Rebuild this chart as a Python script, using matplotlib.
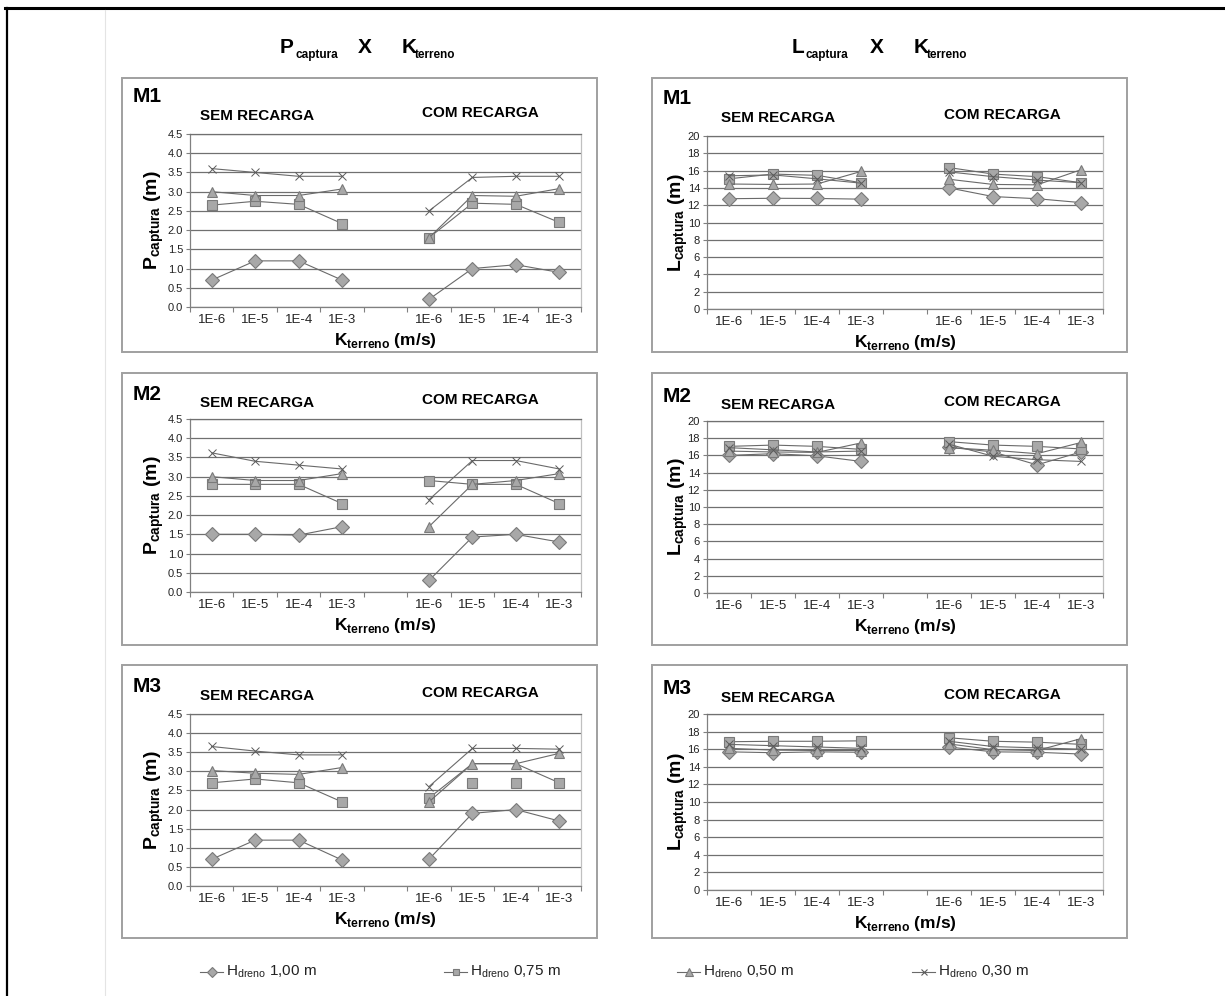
import numpy as np
import matplotlib
matplotlib.use('Agg')
from matplotlib import pyplot as plt
from matplotlib.lines import Line2D
from matplotlib.patches import Rectangle

W, H = 1225, 996

k_labels = ['1E-6', '1E-5', '1E-4', '1E-3']
h_dreno = ['1,00', '0,75', '0,50', '0,30']

# each group lists the series for H_dreno 1,00 / 0,75 / 0,50 / 0,30 m
p_m1_sem = [[0.7, 1.2, 1.2, 0.7], [2.65, 2.75, 2.67, 2.17], [3.0, 2.9, 2.9, 3.07], [3.6, 3.5, 3.4, 3.4]]
p_m1_com = [[0.2, 1.0, 1.1, 0.9], [1.8, 2.7, 2.67, 2.2], [1.8, 2.9, 2.88, 3.08], [2.5, 3.37, 3.4, 3.4]]
p_m2_sem = [[1.5, 1.5, 1.48, 1.7], [2.8, 2.8, 2.8, 2.3], [3.0, 2.9, 2.9, 3.08], [3.62, 3.4, 3.3, 3.2]]
p_m2_com = [[0.3, 1.43, 1.5, 1.3], [2.9, 2.8, 2.8, 2.3], [1.7, 2.8, 2.9, 3.08], [2.4, 3.42, 3.42, 3.2]]
p_m3_sem = [[0.7, 1.2, 1.2, 0.68], [2.7, 2.8, 2.7, 2.2], [3.02, 2.95, 2.92, 3.1], [3.65, 3.53, 3.43, 3.43]]
p_m3_com = [[0.7, 1.9, 2.0, 1.7], [2.3, 2.7, 2.7, 2.7], [2.2, 3.2, 3.2, 3.47], [2.6, 3.6, 3.6, 3.58]]
# in the source chart the 0,75 m line of M3 / com recarga does not pass through its markers
p_m3_com_line_075 = [2.3, 3.2, 3.2, 2.7]

l_m1_sem = [[12.75, 12.8, 12.78, 12.7], [15.05, 15.6, 15.45, 14.6], [14.45, 14.4, 14.45, 15.9], [15.4, 15.5, 15.05, 14.55]]
l_m1_com = [[14.0, 13.0, 12.75, 12.3], [16.35, 15.6, 15.3, 14.6], [15.0, 14.4, 14.35, 16.1], [15.85, 15.3, 14.9, 14.6]]
l_m2_sem = [[16.0, 16.2, 15.95, 15.3], [17.05, 17.2, 17.05, 16.7], [16.5, 16.4, 16.35, 17.45], [16.9, 16.65, 16.4, 16.5]]
l_m2_com = [[16.95, 16.4, 14.9, 16.4], [17.6, 17.2, 17.05, 16.75], [16.9, 16.6, 16.2, 17.5], [17.3, 15.9, 15.5, 15.3]]
l_m3_sem = [[15.7, 15.6, 15.7, 15.65], [16.85, 16.9, 16.9, 16.95], [16.1, 15.9, 15.85, 15.85], [16.55, 16.4, 16.25, 16.1]]
l_m3_com = [[16.25, 15.7, 15.65, 15.45], [17.3, 16.9, 16.8, 16.55], [16.6, 15.95, 15.85, 17.2], [16.9, 16.3, 16.15, 16.0]]

plt.rcParams['font.family'] = ['Liberation Sans', 'DejaVu Sans']
plt.rcParams['mathtext.fontset'] = 'custom'
plt.rcParams['mathtext.rm'] = 'Liberation Sans'
plt.rcParams['mathtext.bf'] = 'Liberation Sans:bold'

NARROW = ['Liberation Sans Narrow', 'Liberation Sans']
LINE_C = '#6a6a6a'
FACE_C = '#a8a8a8'
EDGE_C = '#7a7a7a'
GRID_C = '#707070'
BOX_C = '#a0a0a0'

markers = ['D', 's', '^', 'x']
msizes = [7, 6.5, 7.5, 6]

x_sem = [0, 1, 2, 3]
x_com = [5, 6, 7, 8]


def fx(px):
    return px / W


def fy(py):
    return 1 - py / H


def style(i):
    return dict(marker=markers[i], ms=msizes[i], mfc=FACE_C, mec=EDGE_C if markers[i] != 'x' else '#5a5a5a',
                mew=0.8 if markers[i] != 'x' else 0.7, color=LINE_C, lw=0.8, zorder=3)


def draw_panel(ax, sem, com, ymax, ystep, fmt, line_fix=None):
    for i in range(4):
        ax.plot(x_sem, sem[i], **style(i))
        if line_fix is not None and line_fix[0] == i:
            ax.plot(x_com, line_fix[1], color=LINE_C, lw=0.8, zorder=3)
            ax.plot(x_com, com[i], **dict(style(i), ls='none'))
        else:
            ax.plot(x_com, com[i], **style(i))

    ax.set_xlim(-0.5, 8.5)
    ax.set_ylim(0, ymax)
    yt = np.arange(0, ymax + ystep / 2, ystep)
    ax.set_yticks(yt)
    ax.set_yticklabels([fmt % v for v in yt])
    ax.set_xticks(np.arange(-0.5, 9, 1))
    ax.set_xticklabels([])
    ax.set_xticks(x_sem + x_com, minor=True)
    ax.set_xticklabels(k_labels * 2, minor=True)
    ax.tick_params(axis='x', which='major', length=3.5, width=0.8, color='#808080', direction='out')
    ax.tick_params(axis='x', which='minor', length=0, pad=5, labelsize=9.5, labelcolor='#222222')
    ax.tick_params(axis='y', length=3, width=0.8, color='#808080', pad=2, labelsize=8, labelcolor='#222222')
    ax.grid(axis='y', color=GRID_C, lw=0.9)
    ax.set_axisbelow(True)
    ax.spines['left'].set_color('#808080')
    ax.spines['bottom'].set_color('#808080')
    ax.spines['right'].set_color('#c0c0c0')
    ax.spines['top'].set_color(GRID_C)
    for s in ax.spines.values():
        s.set_linewidth(0.9)


fig = plt.figure(figsize=(W / 100, H / 100), dpi=100)

# outer page frame
fig.add_artist(Line2D([fx(5), fx(W)], [fy(8.5), fy(8.5)], color='black', lw=2.2))
fig.add_artist(Line2D([fx(6.5), fx(6.5)], [fy(8), fy(H)], color='black', lw=1.6))
fig.add_artist(Line2D([fx(104.5), fx(104.5)], [fy(10), fy(H)], color='#e4e4e4', lw=0.8))

# column headers
for x0, letter, sub_dx in ((280, 'P', 15), (792, 'L', 13)):
    fig.text(fx(x0), fy(53), letter, fontsize=15, fontweight='bold', va='baseline')
    fig.text(fx(x0 + sub_dx), fy(57.5), 'captura', fontsize=8.5, fontweight='bold', va='baseline')
    fig.text(fx(x0 + 78), fy(53), 'X', fontsize=15, fontweight='bold', va='baseline')
    fig.text(fx(x0 + 122), fy(53), 'K', fontsize=15, fontweight='bold', va='baseline')
    fig.text(fx(x0 + 135), fy(57.5), 'terreno', fontsize=8.5, fontweight='bold', va='baseline')

rows = [
    ('M1', p_m1_sem, p_m1_com, l_m1_sem, l_m1_com, None, (78, 352), (134, 307), (136, 309), (97, 116, 113)),
    ('M2', p_m2_sem, p_m2_com, l_m2_sem, l_m2_com, None, (373, 645), (419, 592), (421, 593), (394, 403, 400)),
    ('M3', p_m3_sem, p_m3_com, l_m3_sem, l_m3_com, (1, p_m3_com_line_075), (665, 938), (714, 886), (714, 890),
     (686, 696, 693)),
]

cols = [
    # box left/right, axes left/right, ylabel x, title x positions
    dict(box=(122, 597), ax=(190, 581), ylab_x=154, m_x=133, sem_x=257, com_x=480, dy=0, kind='P'),
    dict(box=(652, 1127), ax=(707, 1103), ylab_x=678, m_x=663, sem_x=778, com_x=1002, dy=2, kind='L'),
]

for name, psem, pcom, lsem, lcom, fix, box, pax, lax, ty in rows:
    for c in cols:
        b0, b1 = c['box']
        fig.add_artist(Rectangle((fx(b0), fy(box[1])), (b1 - b0) / W, (box[1] - box[0]) / H,
                                 transform=fig.transFigure, fill=False, ec=BOX_C, lw=1.4))
        a0, a1 = c['ax']
        t, btm = pax if c['kind'] == 'P' else lax
        ax = fig.add_axes([fx(a0), fy(btm), (a1 - a0) / W, (btm - t) / H])
        if c['kind'] == 'P':
            draw_panel(ax, psem, pcom, 4.5, 0.5, '%.1f', fix)
            ylab = r'$\mathbf{P}_{\mathbf{captura}}$ (m)'
        else:
            draw_panel(ax, lsem, lcom, 20, 2, '%d')
            ylab = r'$\mathbf{L}_{\mathbf{captura}}$ (m)'
        fig.text(fx(c['ylab_x']), fy((t + btm) / 2), ylab, rotation=90, fontsize=14, fontweight='bold',
                 ha='center', va='center')
        fig.text(fx((a0 + a1) / 2), fy(btm + 33), r'$\mathbf{K}_{\mathbf{terreno}}$ (m/s)', fontsize=12.5,
                 fontweight='bold', ha='center', va='center')
        fig.text(fx(c['m_x']), fy(ty[0] + c['dy']), name, fontsize=15, fontweight='bold', va='center')
        fig.text(fx(c['sem_x']), fy(ty[1] + c['dy']), 'SEM RECARGA', fontsize=11, fontweight='bold',
                 ha='center', va='center')
        fig.text(fx(c['com_x']), fy(ty[2] + c['dy']), 'COM RECARGA', fontsize=11, fontweight='bold',
                 ha='center', va='center')

# legend along the bottom
leg_x = [200, 444, 677, 912]
for i, x0 in enumerate(leg_x):
    y = fy(972)
    fig.add_artist(Line2D([fx(x0), fx(x0 + 23)], [y, y], color=LINE_C, lw=0.8))
    fig.add_artist(Line2D([fx(x0 + 11.5)], [y], ls='none', marker=markers[i], ms=msizes[i] - 1.5,
                          mfc=FACE_C, mec=EDGE_C if markers[i] != 'x' else '#5a5a5a', mew=0.8))
    fig.text(fx(x0 + 26), y, r'H$_{\mathrm{dreno}}$ ' + h_dreno[i] + ' m', fontsize=11, family=NARROW,
             va='center', color='#222222')

fig.savefig('out.png', dpi=100)
